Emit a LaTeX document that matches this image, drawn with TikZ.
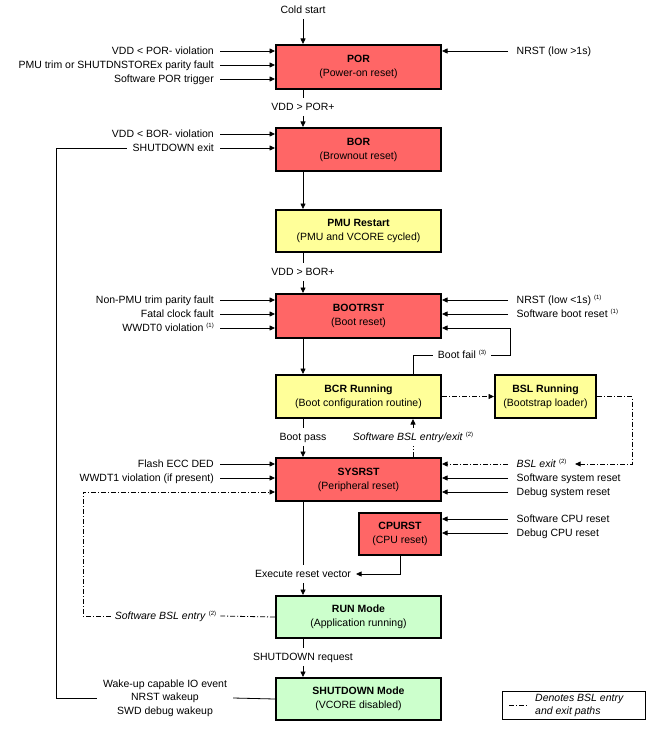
\documentclass[tikz,border=0pt]{standalone}
\usepackage{fontspec}
\setmainfont{Liberation Sans}
\usetikzlibrary{arrows.meta}
\definecolor{rbox}{RGB}{255,102,102}
\definecolor{ybox}{RGB}{255,255,153}
\definecolor{gbox}{RGB}{204,255,204}
\newcommand\fnm[1]{\raisebox{4pt}{\fontsize{6}{6}\selectfont(#1)}}
\begin{document}
\begin{tikzpicture}[x=1pt,y=-1pt,
  font=\fontsize{10.5}{14}\selectfont,
  stbox/.style={draw, line width=2pt, anchor=north west, minimum width=165pt, align=center, inner sep=0pt, font=\fontsize{10.5}{14}\selectfont},
  lblL/.style={anchor=east, inner xsep=6pt, inner ysep=0pt, text height=7.5pt, text depth=0pt},
  lblR/.style={anchor=west, inner xsep=8.5pt, inner ysep=0pt, text height=7.5pt, text depth=0pt},
  lblC/.style={inner xsep=5pt, inner ysep=5pt, text height=7.5pt, text depth=0pt},
  conn/.style={line width=0.8pt},
  arr/.style={conn, -{Triangle[length=5.5pt,width=5pt]}},
  bsl/.style={dash pattern=on 5pt off 2pt on 1pt off 2pt}
]
\useasboundingbox (0,0) rectangle (650,730);
\fill[white] (0,0) rectangle (650,730);

% boxes
\node[stbox, fill=rbox, minimum height=44pt] (por) at (275,44) {\textbf{POR}\\(Power-on reset)};
\node[stbox, fill=rbox, minimum height=43pt] (bor) at (275,127) {\textbf{BOR}\\(Brownout reset)};
\node[stbox, fill=ybox, minimum height=42pt] (pmu) at (275,209) {\textbf{PMU Restart}\\(PMU and VCORE cycled)};
\node[stbox, fill=rbox, minimum height=44pt] (boot) at (275,293) {\textbf{BOOTRST}\\(Boot reset)};
\node[stbox, fill=ybox, minimum height=43pt] (bcr) at (275,374) {\textbf{BCR Running}\\(Boot configuration routine)};
\node[stbox, fill=ybox, minimum height=43pt, minimum width=101pt] (bsl) at (494,374) {\textbf{BSL Running}\\(Bootstrap loader)};
\node[stbox, fill=rbox, minimum height=43pt] (sys) at (275,457) {\textbf{SYSRST}\\(Peripheral reset)};
\node[stbox, fill=rbox, minimum height=42pt, minimum width=82pt] (cpu) at (358,512) {\textbf{CPURST}\\(CPU reset)};
\node[stbox, fill=gbox, minimum height=42pt] (run) at (275,595) {\textbf{RUN Mode}\\(Application running)};
\node[stbox, fill=gbox, minimum height=42pt] (shd) at (275,677) {\textbf{SHUTDOWN Mode}\\(VCORE disabled)};

\coordinate (spine) at (303,0);

% cold start
\node[lblC] (cold) at (303,10) {Cold start};
\draw[arr] (cold.south) -- (cold |- por.north);

% POR inputs
\node[lblL] (p1) at (220,51) {VDD < POR- violation};
\node[lblL] (p2) at (220,65) {PMU trim or SHUTDNSTOREx parity fault};
\node[lblL] (p3) at (220,79) {Software POR trigger};
\foreach \n in {p1,p2,p3} \draw[arr] (\n.east) -- (\n.east -| por.west);
\node[lblR] (p4) at (508,51) {NRST (low >1s)};
\draw[arr] (p4.west) -- (p4.west -| por.east);

% POR -> BOR
\node[lblC] (vpor) at (303,107) {VDD > POR+};
\draw[conn] (vpor |- por.south) -- (vpor.north);
\draw[arr] (vpor.south) -- (vpor |- bor.north);

% BOR inputs
\node[lblL] (b1) at (220,134) {VDD < BOR- violation};
\node[lblL] (b2) at (220,148) {SHUTDOWN exit};
\foreach \n in {b1,b2} \draw[arr] (\n.east) -- (\n.east -| bor.west);

% BOR -> PMU
\draw[arr] (spine |- bor.south) -- (spine |- pmu.north);

% PMU -> BOOTRST
\node[lblC] (vbor) at (303,272) {VDD > BOR+};
\draw[conn] (vbor |- pmu.south) -- (vbor.north);
\draw[arr] (vbor.south) -- (vbor |- boot.north);

% BOOTRST inputs
\node[lblL] (t1) at (220,300) {Non-PMU trim parity fault};
\node[lblL] (t2) at (220,314) {Fatal clock fault};
\node[lblL] (t3) at (220,328) {WWDT0 violation \fnm{1}};
\foreach \n in {t1,t2,t3} \draw[arr] (\n.east) -- (\n.east -| boot.west);
\node[lblR] (t4) at (508,300) {NRST (low <1s) \fnm{1}};
\node[lblR] (t5) at (508,314) {Software boot reset \fnm{1}};
\foreach \n in {t4,t5} \draw[arr] (\n.west) -- (\n.west -| boot.east);

% BOOTRST -> BCR
\draw[arr] (spine |- boot.south) -- (spine |- bcr.north);

% boot fail
\node[lblC] (bf) at (462,355) {Boot fail \fnm{3}};
\node[lblC] (swb) at (413,437) {\textit{Software BSL entry/exit} \fnm{2}};
\coordinate (bfc) at (510,328);
\draw[conn] (swb |- bcr.north) |- (bf.west);
\draw[arr] (bf.east) -| (bfc) -- (bfc -| boot.east);

% BCR -> BSL
\draw[arr, bsl] (bcr.east) -- (bsl.west);

% BSL exit
\node[lblR] (bx) at (508,464) {\textit{BSL exit} \fnm{2}};
\coordinate (bxc) at (632,464);
\draw[arr, bsl] (bsl.east) -| (bxc) -- (bx.east);
\draw[arr, bsl] (bx.west) -- (bx.west -| sys.east);

% boot pass and software BSL entry/exit
\node[lblC] (bp) at (303,437) {Boot pass};
\draw[conn] (bp |- bcr.south) -- (bp.north);
\draw[arr] (bp.south) -- (bp |- sys.north);
\draw[arr, bsl] (swb.north) -- (swb |- bcr.south);
\draw[conn, bsl] (swb |- sys.north) -- (swb.south);

% SYSRST inputs
\node[lblL] (s1) at (220,464) {Flash ECC DED};
\node[lblL] (s2) at (220,478) {WWDT1 violation (if present)};
\foreach \n in {s1,s2} \draw[arr] (\n.east) -- (\n.east -| sys.west);
\node[lblR] (s3) at (508,478) {Software system reset};
\node[lblR] (s4) at (508,492) {Debug system reset};
\foreach \n in {s3,s4} \draw[arr] (\n.west) -- (\n.west -| sys.east);

% CPURST inputs
\node[lblR] (c1) at (508,519) {Software CPU reset};
\node[lblR] (c2) at (508,533) {Debug CPU reset};
\foreach \n in {c1,c2} \draw[arr] (\n.west) -- (\n.west -| cpu.east);

% execute reset vector
\node[lblC] (ex) at (303,574) {Execute reset vector};
\draw[conn] (spine |- sys.south) -- (spine |- ex.north);
\draw[arr] (cpu.south) |- (ex.east);
\draw[arr] (spine |- ex.south) -- (spine |- run.north);

% software BSL entry from RUN
\node[lblC, inner xsep=4pt] (swr) at (165.5,616) {\textit{Software BSL entry} \fnm{2}};
\coordinate (dc) at (83,492);
\draw[conn, bsl] (run.west) -- (swr.east);
\draw[arr, bsl] (swr.west) -| (dc) -- (dc -| sys.west);

% shutdown request
\node[lblC] (sr) at (303,657) {SHUTDOWN request};
\draw[conn] (spine |- run.south) -- (sr.north);
\draw[arr] (sr.south) -- (spine |- shd.north);

% wakeup
\node[align=center, inner xsep=6pt, inner ysep=0pt, font=\fontsize{10.5}{13.5}\selectfont] (wk) at (165,698) {Wake-up capable IO event\\NRST wakeup\\SWD debug wakeup};
\coordinate (lc) at (56,148);
\draw[conn] (shd.west) -- (wk.east);
\draw[conn] (wk.west) -| (lc) -- (b2.west);

% legend
\node[draw, line width=0.8pt, anchor=north west, minimum width=143pt, minimum height=28pt, inner sep=0pt] (leg) at (502,691) {};
\draw[conn, bsl] ([xshift=7pt]leg.west) -- ++(19,0);
\node[anchor=west, align=left, inner sep=0pt, font=\fontsize{10.5}{13}\selectfont\itshape] (legt) at (535,705) {Denotes BSL entry\\and exit paths};
\end{tikzpicture}
\end{document}
